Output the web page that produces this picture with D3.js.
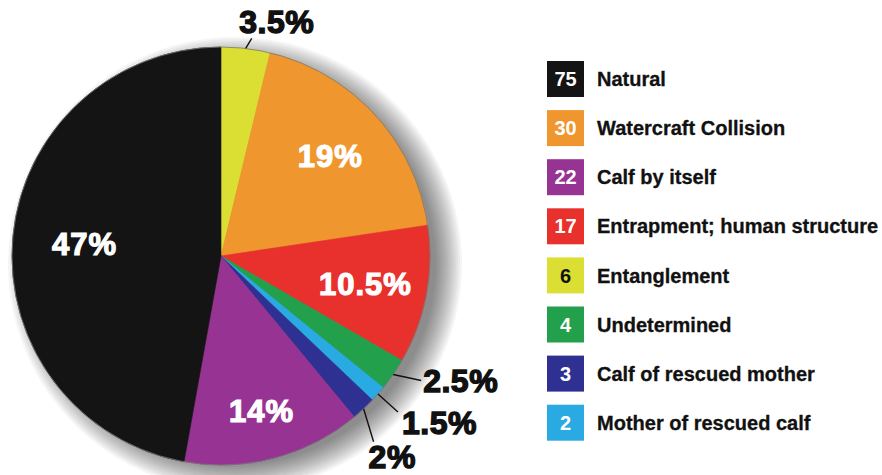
<!DOCTYPE html>
<html>
<head>
<meta charset="utf-8">
<script src="https://cdn.jsdelivr.net/npm/d3@7"></script>
<style>
  body { margin: 0; background: #fff; }
  svg text { font-family: "Liberation Sans", Arial, sans-serif; font-weight: bold; }
</style>
</head>
<body>
<div id="chart"></div>
<script>
// data
const categories = ["Natural", "Watercraft Collision", "Calf by itself", "Entrapment; human structure",
                    "Entanglement", "Undetermined", "Calf of rescued mother", "Mother of rescued calf"];
const counts = [75, 30, 22, 17, 6, 4, 3, 2];
const pctLabels = ["47%", "19%", "14%", "10.5%", "3.5%", "2.5%", "2%", "1.5%"];
const colors = ["#141414", "#f0962f", "#973393", "#e8302d", "#dcdf33", "#22a04b", "#2f3192", "#2aaae2"];
// clockwise from 12 o'clock
const pieOrder = ["Entanglement", "Watercraft Collision", "Entrapment; human structure", "Undetermined",
                  "Mother of rescued calf", "Calf of rescued mother", "Calf by itself", "Natural"];
const outsideLabels = ["Entanglement", "Undetermined", "Mother of rescued calf", "Calf of rescued mother"];

const W = 882, H = 475;
const cx = 221, cy = 256, R = 209;

const svg = d3.select("#chart").append("svg")
    .attr("width", W)
    .attr("height", H);

const color = d3.scaleOrdinal().domain(categories).range(colors);
const rows = pieOrder.map(name => {
  const i = categories.indexOf(name);
  return {name: name, value: counts[i], pct: pctLabels[i]};
});

const pie = d3.pie().sort(null).value(d => d.value);
const arcs = pie(rows);
const arc = d3.arc().innerRadius(0).outerRadius(R);

const g = svg.append("g").attr("transform", `translate(${cx},${cy})`);

// soft drop shadow: stacked faint discs, offset down-right
const shadowRings = d3.range(-8, 20, 2);
g.append("g").attr("transform", "translate(14,8)")
  .selectAll("circle")
  .data(shadowRings)
  .enter().append("circle")
    .attr("r", d => R + d)
    .attr("fill", "#000")
    .attr("fill-opacity", 0.04);

g.selectAll("path.slice")
  .data(arcs)
  .enter().append("path")
    .attr("class", "slice")
    .attr("d", arc)
    .attr("fill", d => color(d.data.name))
    .attr("stroke", d => color(d.data.name))
    .attr("stroke-width", 0.6);

g.append("circle").attr("r", R).attr("fill", "none").attr("stroke", "#777").attr("stroke-width", 0.8);

// labels inside big slices
const inner = arcs.filter(d => outsideLabels.indexOf(d.data.name) < 0);
const labelR = {"Watercraft Collision": 148, "Entrapment; human structure": 147, "Calf by itself": 160, "Natural": 137};
g.selectAll("text.inlab")
  .data(inner)
  .enter().append("text")
    .attr("class", "inlab")
    .attr("x", d => Math.sin((d.startAngle + d.endAngle) / 2) * labelR[d.data.name])
    .attr("y", d => -Math.cos((d.startAngle + d.endAngle) / 2) * labelR[d.data.name])
    .attr("dy", "0.36em")
    .attr("text-anchor", "middle")
    .attr("font-size", 31)
    .attr("fill", "#fff")
    .attr("stroke", "#fff")
    .attr("stroke-width", 1.2)
    .attr("letter-spacing", 1)
    .text(d => d.data.pct);

// small slices: leader line + label outside
const lead = {
  "Entanglement":           {dx: 6,  dy: -10, tx: 31,  ty: -15, anchor: "middle"},
  "Undetermined":           {dx: 28, dy: 6,   tx: 30,  ty: 18,  anchor: "start"},
  "Mother of rescued calf": {dx: 20, dy: 18,  tx: 24,  ty: 40,  anchor: "start"},
  "Calf of rescued mother": {dx: 10, dy: 33,  tx: 5,   ty: 59,  anchor: "start"}
};
const outer = arcs.filter(d => outsideLabels.indexOf(d.data.name) >= 0);
outer.forEach(d => {
  const a = (d.startAngle + d.endAngle) / 2;
  const x0 = Math.sin(a) * R, y0 = -Math.cos(a) * R;
  const L = lead[d.data.name];
  g.append("line")
    .attr("x1", x0).attr("y1", y0)
    .attr("x2", x0 + L.dx).attr("y2", y0 + L.dy)
    .attr("stroke", "#111").attr("stroke-width", 1.4);
  g.append("text")
    .attr("x", x0 + L.tx)
    .attr("y", y0 + L.ty)
    .attr("text-anchor", L.anchor)
    .attr("font-size", 32)
    .attr("fill", "#111")
    .attr("stroke", "#111")
    .attr("stroke-width", 1.4)
    .attr("letter-spacing", 0.5)
    .text(d.data.pct);
});

// legend
const legend = svg.append("g").attr("transform", "translate(547,61)");
const item = legend.selectAll("g.item")
  .data(categories)
  .enter().append("g")
    .attr("class", "item")
    .attr("transform", (d, i) => `translate(0,${i * 49.1})`);

item.append("rect")
    .attr("width", 37).attr("height", 36)
    .attr("fill", d => color(d));

item.append("text")
    .attr("x", 18.5).attr("y", 18)
    .attr("dy", "0.36em")
    .attr("text-anchor", "middle")
    .attr("font-size", 20)
    .attr("fill", d => d === "Entanglement" ? "#111" : "#fff")
    .text((d, i) => counts[i]);

item.append("text")
    .attr("x", 50).attr("y", 18)
    .attr("dy", "0.36em")
    .attr("font-size", 20)
    .attr("fill", "#111")
    .attr("stroke", "#111")
    .attr("stroke-width", 0.3)
    .text(d => d);
</script>
</body>
</html>
